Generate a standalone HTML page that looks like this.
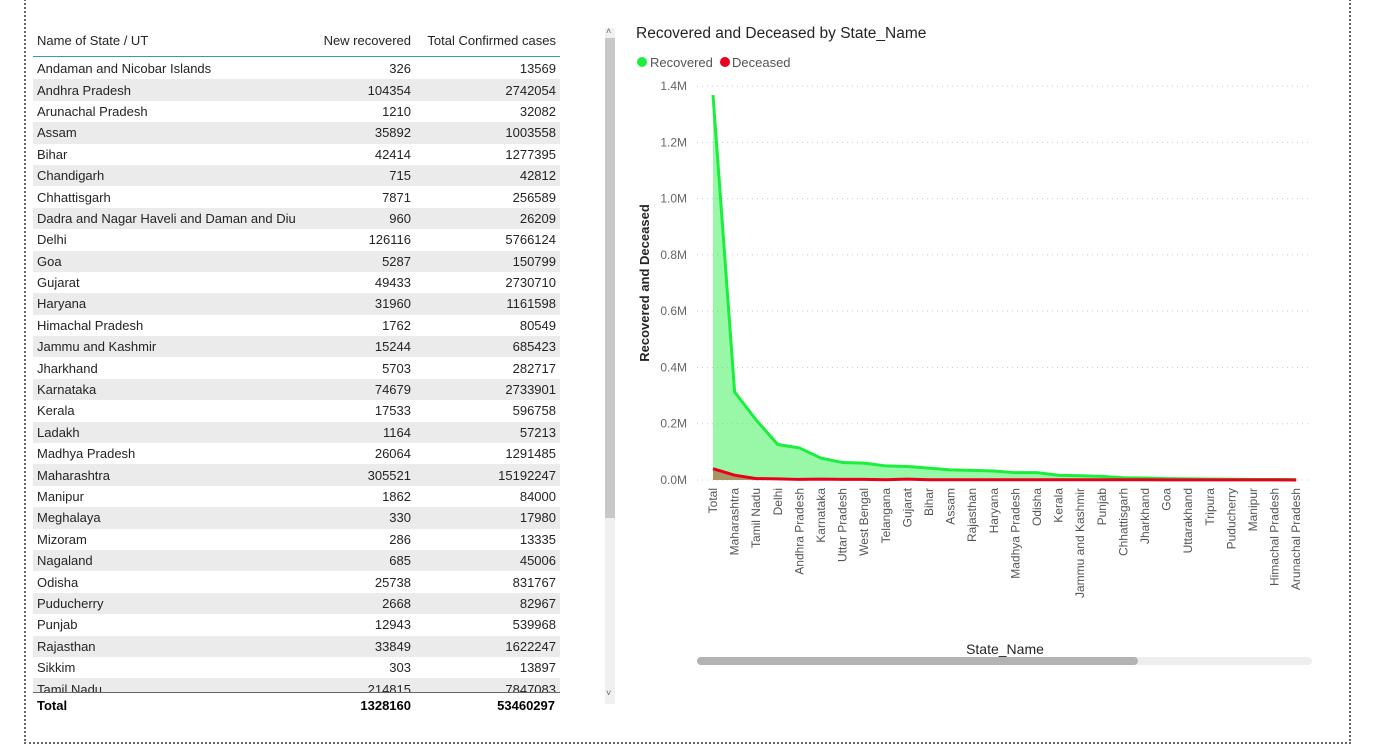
<!DOCTYPE html>
<html><head><meta charset="utf-8"><style>
body{margin:0;width:1385px;height:747px;background:#fff;font-family:"Liberation Sans",sans-serif;overflow:hidden;position:relative}
#frame{position:absolute;left:24px;top:-4px;width:1323px;height:746px;border:2px dotted #666;border-top:none}
table{position:absolute;left:33px;top:25px;border-collapse:collapse;font-size:13px;color:#252423;width:527px}
td,th{padding:0 4px;height:21.4px;white-space:nowrap;overflow:hidden}
th{font-weight:normal;height:31px;border-bottom:1px solid #3a9bb0;text-align:left}
th.n,td.n{text-align:right}
th.c2,td.c2{padding-right:1px}
tr.alt td{background:#ebebeb}
.body{position:absolute;left:33px;top:58px;width:527px;height:634px;overflow:hidden}
.body table{position:static}
.tot{position:absolute;left:33px;top:692px;width:527px;border-top:1px solid #666;font-weight:bold;font-size:13px;height:24px}
</style></head><body>
<div id="frame"></div>
<table><tr><th style="width:272px">Name of State / UT</th><th class="n c2">New recovered</th><th class="n" style="width:140px">Total Confirmed cases</th></tr></table>
<div class="body"><table id="tb" style="width:527px"></table></div>
<div class="tot"><span style="position:absolute;left:4px;top:5px">Total</span><span style="position:absolute;right:149px;top:5px">1328160</span><span style="position:absolute;right:5px;top:5px">53460297</span></div>
<div style="position:absolute;left:605px;top:28px;width:10px;height:676px;background:#f0f0f0"><div style="position:absolute;top:10px;height:480px;width:10px;background:#c8c8c8"></div><div style="position:absolute;top:-2px;left:1px;font-size:9px;color:#666">˄</div><div style="position:absolute;bottom:6px;left:1px;font-size:9px;color:#666">˅</div></div>
<svg id="ch" width="1385" height="747" style="position:absolute;left:0;top:0"></svg>
<script>
const rows=[["Andaman and Nicobar Islands",326,13569],["Andhra Pradesh",104354,2742054],["Arunachal Pradesh",1210,32082],["Assam",35892,1003558],["Bihar",42414,1277395],["Chandigarh",715,42812],["Chhattisgarh",7871,256589],["Dadra and Nagar Haveli and Daman and Diu",960,26209],["Delhi",126116,5766124],["Goa",5287,150799],["Gujarat",49433,2730710],["Haryana",31960,1161598],["Himachal Pradesh",1762,80549],["Jammu and Kashmir",15244,685423],["Jharkhand",5703,282717],["Karnataka",74679,2733901],["Kerala",17533,596758],["Ladakh",1164,57213],["Madhya Pradesh",26064,1291485],["Maharashtra",305521,15192247],["Manipur",1862,84000],["Meghalaya",330,17980],["Mizoram",286,13335],["Nagaland",685,45006],["Odisha",25738,831767],["Puducherry",2668,82967],["Punjab",12943,539968],["Rajasthan",33849,1622247],["Sikkim",303,13897],["Tamil Nadu",214815,7847083]];
const tb=document.getElementById('tb');
rows.forEach((r,i)=>{const tr=document.createElement('tr');


if(i%2)tr.className='alt';
tr.innerHTML='<td style="width:272px;max-width:272px">'+r[0]+'</td><td class="n c2">'+r[1]+'</td><td class="n" style="width:140px">'+r[2]+'</td>';tb.appendChild(tr);});

const categories=["Total","Maharashtra","Tamil Nadu","Delhi","Andhra Pradesh","Karnataka","Uttar Pradesh","West Bengal","Telangana","Gujarat","Bihar","Assam","Rajasthan","Haryana","Madhya Pradesh","Odisha","Kerala","Jammu and Kashmir","Punjab","Chhattisgarh","Jharkhand","Goa","Uttarakhand","Tripura","Puducherry","Manipur","Himachal Pradesh","Arunachal Pradesh"];
const recovered=[1.368,0.313,0.213,0.126,0.114,0.078,0.062,0.060,0.050,0.048,0.042,0.036,0.034,0.032,0.026,0.026,0.017,0.015,0.013,0.008,0.007,0.005,0.004,0.003,0.0027,0.0019,0.0018,0.0012];
const deceased=[0.040,0.017,0.005,0.004,0.002,0.003,0.002,0.002,0.001,0.003,0.001,0.001,0.001,0.001,0.001,0.001,0.001,0.001,0.001,0.001,0.001,0.0005,0.0005,0.0005,0.0005,0.0003,0.0003,0.0002];
const ticks=[0,0.2,0.4,0.6,0.8,1.0,1.2,1.4];
const x=i=>713+i*21.6, y=v=>480-v*281.4;
const s=document.getElementById('ch'),NS='http://www.w3.org/2000/svg';
function el(t,a,txt){const e=document.createElementNS(NS,t);for(const k in a)e.setAttribute(k,a[k]);if(txt!=null)e.textContent=txt;s.appendChild(e);return e;}
let e=el('text',{x:636,y:38,'font-size':15.5,fill:'#252423'},'Recovered and Deceased by State_Name');

e=el('circle',{cx:642,cy:62,r:5,fill:'#1aef3c'});
e=el('text',{x:650,y:67,'font-size':13,fill:'#555'},'Recovered');
e=el('circle',{cx:725,cy:62,r:5,fill:'#e8001c'});
e=el('text',{x:732,y:67,'font-size':13,fill:'#555'},'Deceased');
ticks.forEach(t=>{e=el('line',{x1:697,x2:1312,y1:y(t),y2:y(t),stroke:'#ccc','stroke-dasharray':'1 4'});
e=el('text',{x:687,y:y(t)+4,'font-size':12,fill:'#666','text-anchor':'end'},t.toFixed(1)+'M');});
e=el('text',{transform:'translate(649,283) rotate(-90)','font-size':13,'font-weight':'bold',fill:'#252423','text-anchor':'middle'},'Recovered and Deceased');
function pts(arr){return arr.map((v,i)=>x(i)+','+y(v)).join(' ');}
const base=x(categories.length-1)+','+y(0)+' '+x(0)+','+y(0);
e=el('polygon',{points:pts(recovered)+' '+base,fill:'#1aef3c','fill-opacity':0.45});
e=el('polygon',{points:pts(deceased)+' '+base,fill:'#b0764f','fill-opacity':0.75});
e=el('polyline',{points:pts(recovered),fill:'none',stroke:'#1aef3c','stroke-width':3});
e=el('polyline',{points:pts(deceased),fill:'none',stroke:'#e8001c','stroke-width':3});
categories.forEach((c,i)=>{e=el('text',{transform:'translate('+(x(i)+4)+',488) rotate(-90)','font-size':12,fill:'#555','text-anchor':'end'},c);});
e=el('text',{x:1005,y:654,'font-size':14,fill:'#252423','text-anchor':'middle'},'State_Name');
e=el('rect',{x:697,y:657,width:615,height:8,rx:4,fill:'#eee'});
e=el('rect',{x:697,y:657,width:441,height:8,rx:4,fill:'#b3b3b3'});
</script>
</body></html>
